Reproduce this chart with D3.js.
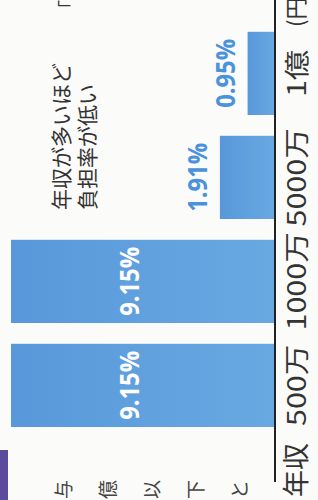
<!DOCTYPE html>
<html><head><meta charset="utf-8">
<script src="https://cdn.jsdelivr.net/npm/d3@7"></script>
<style>body{margin:0;background:#fbfbf9;} svg{display:block}</style>
</head><body><svg id="c" width="318" height="500"></svg>
<script>
// ---- data ----
const categories = ["500万", "1000万", "5000万", "1億"];
const burdenRates = [9.15, 9.15, 1.91, 0.95];
const valueLabels = ["9.15%", "9.15%", "1.91%", "0.95%"];
const axisPrefix = "年収";
const axisUnit = "(円)";
const noteLines = ["年収が多いほど", "負担率が低い"];
const marginChars = ["与", "億", "以", "下", "と"];

// ---- drawing (chart is photographed rotated 90° counter-clockwise) ----
const svg = d3.select("#c");
const g = svg.append("g").attr("transform", "translate(0,500) rotate(-90)");
const FW = 500, FH = 318; // unrotated frame

const defs = svg.append("defs");
const grad = defs.append("linearGradient").attr("id", "barGrad")
  .attr("x1", 0).attr("y1", 0).attr("x2", 0).attr("y2", 1);
grad.append("stop").attr("offset", "0%").attr("stop-color", "#5898da");
grad.append("stop").attr("offset", "100%").attr("stop-color", "#68a9e2");

const x = d3.scaleBand().domain(categories).range([62.6, 478.6])
  .paddingInner(0.2).paddingOuter(0.1);
const y = d3.scaleLinear().domain([0, 10]).range([275, 275 - 288.5]);

// purple tab and neighbouring text at the page edge
g.append("rect").attr("x", 0).attr("y", 0).attr("width", 50).attr("height", 8).attr("fill", "#5a4b9b");
g.selectAll("text.margin").data(marginChars).join("text").attr("class", "margin")
  .attr("x", 1).attr("y", (d, i) => 71 + i * 44)
  .attr("font-family", "Noto Sans CJK JP").attr("font-size", 19).attr("fill", "#444")
  .text(d => d);

// bars
g.selectAll("rect.bar").data(burdenRates).join("rect").attr("class", "bar")
  .attr("x", (d, i) => x(categories[i]))
  .attr("width", x.bandwidth())
  .attr("y", d => y(d))
  .attr("height", d => y(0) - y(d))
  .attr("fill", "url(#barGrad)");

// value labels
g.selectAll("text.val").data(burdenRates).join("text").attr("class", "val")
  .attr("x", (d, i) => x(categories[i]) + x.bandwidth() / 2)
  .attr("y", d => d > 5 ? y(d) + 128 : y(d) - 13)
  .attr("text-anchor", "middle")
  .attr("font-family", "Open Sans").attr("font-weight", 700).attr("font-size", 27)
  .attr("fill", d => d > 5 ? "#ffffff" : "#4a92dc")
  .text((d, i) => valueLabels[i])
  .each(function () { const L = this.getComputedTextLength(); d3.select(this).attr("textLength", L * 0.88).attr("lengthAdjust", "spacingAndGlyphs"); });

// axis
const axis = d3.axisBottom(x).tickSize(0).tickPadding(13);
const ax = g.append("g").attr("transform", `translate(0,${y(0)})`).call(axis);
ax.select(".domain").remove();
ax.selectAll("text").attr("font-family", "Noto Sans CJK JP").attr("font-size", 25).attr("fill", "#333")
  .each(function () { const L = this.getComputedTextLength(); d3.select(this).attr("textLength", L * 1.22).attr("lengthAdjust", "spacingAndGlyphs"); });

g.append("line").attr("x1", 18).attr("x2", FW).attr("y1", y(0)).attr("y2", y(0))
  .attr("stroke", "#222").attr("stroke-width", 2);

g.append("text").attr("x", 30).attr("y", y(0) + 12).attr("dy", "0.71em")
  .attr("text-anchor", "middle")
  .attr("font-family", "Noto Sans CJK JP").attr("font-size", 27).attr("fill", "#333")
  .text(axisPrefix);
g.append("text").attr("x", 473).attr("y", y(0) + 13).attr("dy", "0.71em")
  .attr("font-family", "Noto Sans CJK JP").attr("font-size", 22).attr("fill", "#333")
  .text(axisUnit);

// annotation
g.selectAll("text.note").data(noteLines).join("text").attr("class", "note")
  .attr("x", 290).attr("y", (d, i) => 69 + i * 26)
  .attr("font-family", "Noto Sans CJK JP").attr("font-size", 21).attr("fill", "#333")
  .text(d => d);

g.append("text").attr("x", 482).attr("y", 74)
  .attr("font-family", "Noto Sans CJK JP").attr("font-size", 18).attr("fill", "#333").text("「");
</script></body></html>
